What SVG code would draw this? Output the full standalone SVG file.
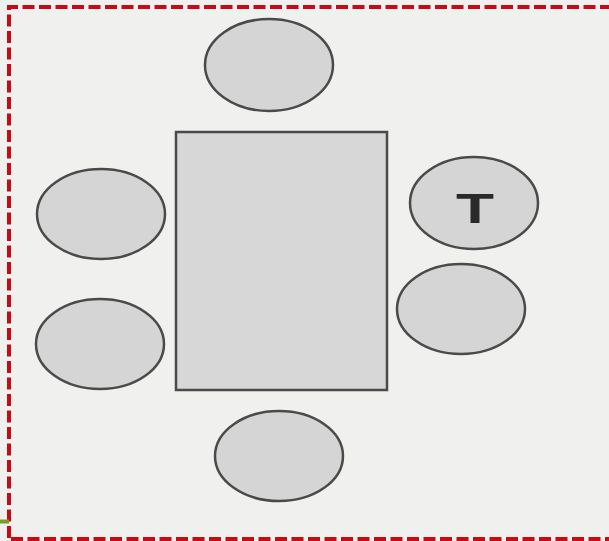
<svg xmlns="http://www.w3.org/2000/svg" width="609" height="541" viewBox="0 0 609 541">
<style>
.seat{fill:#d5d5d5;stroke:#4a4a4a;stroke-width:2.5}
.table{fill:#d7d7d7;stroke:#4a4a4a;stroke-width:2.5}
.border{fill:none;stroke:#c80a14;stroke-width:4;stroke-dasharray:12 4.5}
.lbl{font-family:"Liberation Sans",Arial,sans-serif;font-weight:bold;font-size:42px;fill:#2a2a2a}
</style>
<rect x="0" y="0" width="609" height="541" fill="#f0f0ee"/>
<g id="connectors"></g>
<g id="table"><rect class="table" x="176" y="132" width="211" height="258"/></g>
<g id="seat-top"><ellipse class="seat" cx="269" cy="65" rx="64" ry="46"/></g>
<g id="seat-left-1"><ellipse class="seat" cx="101" cy="214" rx="64" ry="45"/></g>
<g id="seat-left-2"><ellipse class="seat" cx="100" cy="344" rx="64" ry="45"/></g>
<g id="seat-right-T"><ellipse class="seat" cx="474" cy="203" rx="64" ry="46"/>
<text class="lbl" x="475" y="223" text-anchor="middle" textLength="38" lengthAdjust="spacingAndGlyphs">T</text></g>
<g id="seat-right-2"><ellipse class="seat" cx="461" cy="309" rx="64" ry="45"/></g>
<g id="seat-bottom"><ellipse class="seat" cx="279" cy="456" rx="64" ry="45"/></g>
<path class="border" d="M9 538 V7 H609"/>
<path class="border" d="M11 539 H609"/>
<line x1="0" y1="521.5" x2="9" y2="521.5" stroke="#7a9a2a" stroke-width="4"/>
</svg>
